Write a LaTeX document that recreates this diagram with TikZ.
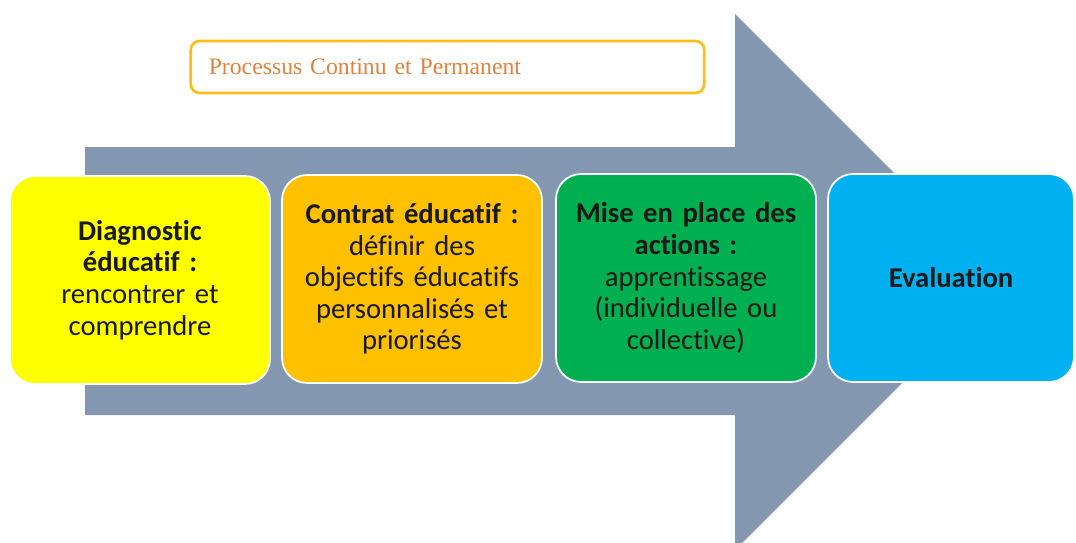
\documentclass[tikz,border=0pt]{standalone}
\usepackage{fontspec}
\setmainfont{Carlito}[Ligatures=NoCommon]
\newfontfamily\titlefont{Liberation Serif}
\definecolor{arrowgray}{HTML}{8497B0}
\definecolor{titlegold}{HTML}{F8BE1C}
\definecolor{titletext}{HTML}{E0823F}
\definecolor{diagyellow}{HTML}{FFFF00}
\definecolor{contratorange}{HTML}{FFC000}
\definecolor{actiongreen}{HTML}{00B050}
\definecolor{evalblue}{HTML}{00B0F0}

\begin{document}
\begin{tikzpicture}[x=0.02cm, y=-0.02cm,
    stepbox/.style={draw=white, line width=1pt, rounded corners=0.5cm,
        minimum width=5.2cm, minimum height=4.16cm, text width=4.9cm,
        align=center, text=black!90, font=\fontsize{16.3}{18}\selectfont},
    titlebox/.style={draw=titlegold, line width=1.5pt, rounded corners=5pt,
        minimum height=1.04cm, text width=9.55cm, inner xsep=0.36cm,
        align=left, text=titletext, font=\titlefont\fontsize{13.5}{16}\selectfont}]

            \useasboundingbox (0, 0) rectangle (1076, 542);
            \clip (0, 0) rectangle (1076, 542);

            \fill [arrowgray] (85, 147) -- (735, 147) -- (735, 14) -- (1003, 282)
                -- (735, 550) -- (735, 415) -- (85, 415) -- cycle;

            \node [titlebox] (title) at (447.5, 67) {Processus Continu et Permanent};

            \node [stepbox, fill=diagyellow] (diagnostic) at (140, 280)
                {\textbf{Diagnostic\\ éducatif :}\\ rencontrer et\\ comprendre};

            \node [stepbox, fill=contratorange] (contrat) at (412, 279)
                {\textbf{Contrat éducatif :}\\ définir des\\ objectifs éducatifs\\ personnalisés et\\ priorisés};

            \node [stepbox, fill=actiongreen] (actions) at (686, 278)
                {\textbf{Mise en place des\\ actions :}\\ apprentissage\\ (individuelle ou\\ collective)};

            \node [stepbox, fill=evalblue, minimum width=4.92cm, text width=4.5cm] (evaluation) at (951, 278)
                {\textbf{Evaluation}};

        \end{tikzpicture}
\end{document}
